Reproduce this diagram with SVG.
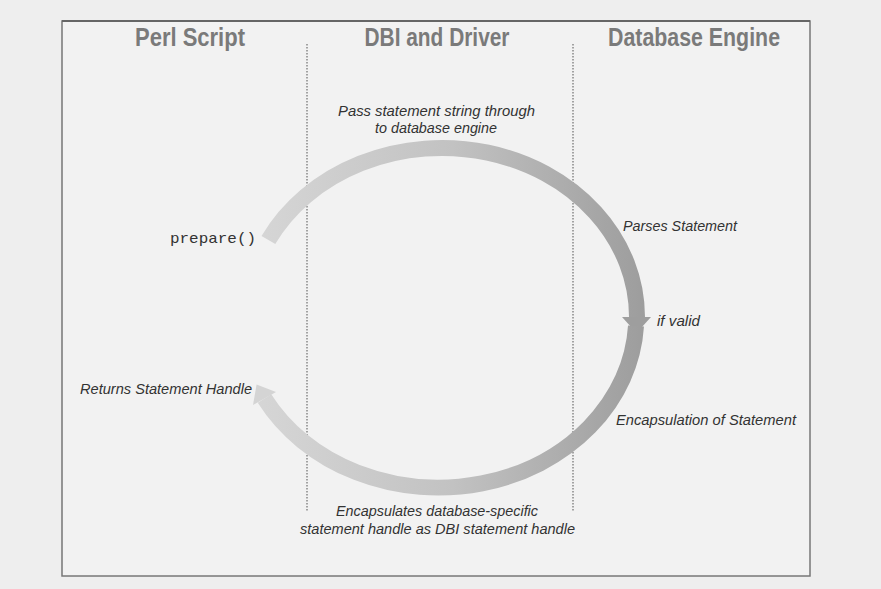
<svg xmlns="http://www.w3.org/2000/svg" width="881" height="589" viewBox="0 0 881 589">
<defs>
<linearGradient id="g" gradientUnits="userSpaceOnUse" x1="255" y1="0" x2="650" y2="0">
<stop offset="0" stop-color="#d6d6d6"/>
<stop offset="0.5" stop-color="#c2c2c2"/>
<stop offset="1" stop-color="#9c9c9c"/>
</linearGradient>
<style>
.hdr{font-family:"Liberation Sans",Arial,sans-serif;font-weight:bold;font-size:25px;fill:#7a7a7a;text-anchor:middle}
.lbl{font-family:"Liberation Sans",Arial,sans-serif;font-style:italic;font-size:14px;fill:#333}
.mono{font-family:"Liberation Mono","Courier New",monospace;font-size:15px;fill:#333}
.div{stroke:#888;stroke-width:1.5;stroke-dasharray:1.5 1.5;fill:none}
.band{fill:none;stroke:url(#g);stroke-width:16}
</style>
</defs>
<rect x="0" y="0" width="881" height="589" fill="#eeeeee"/>
<rect x="62" y="21" width="748" height="555" fill="#f2f2f2" stroke="#777" stroke-width="1.5"/>
<line x1="62" y1="21" x2="810" y2="21" stroke="#666" stroke-width="2"/>

<g id="headers">
<text class="hdr" x="190" y="46" textLength="110" lengthAdjust="spacingAndGlyphs">Perl Script</text>
<text class="hdr" x="437" y="46" textLength="145" lengthAdjust="spacingAndGlyphs">DBI and Driver</text>
<text class="hdr" x="694" y="46" textLength="172" lengthAdjust="spacingAndGlyphs">Database Engine</text>
</g>

<g id="dividers">
<line class="div" x1="307" y1="44" x2="307" y2="512"/>
<line class="div" x1="573" y1="44" x2="573" y2="512"/>
</g>

<g id="connectors">
<path class="band" d="M 268.4 240 A 195 169 0 0 1 637 317"/>
<polygon points="622,317 651,317 636.5,333" fill="#9e9e9e"/>
<path class="band" d="M 636 326 A 198 171 0 0 1 264.5 398.5"/>
<polygon points="253,405 276,392 256.6,384.6" fill="#d4d4d4"/>
</g>

<g id="node-prepare">
<text class="mono" x="170" y="243" textLength="86" lengthAdjust="spacingAndGlyphs">prepare()</text>
</g>
<g id="node-pass">
<text class="lbl" x="338" y="116" textLength="197" lengthAdjust="spacingAndGlyphs">Pass statement string through</text>
<text class="lbl" x="375" y="133" textLength="122" lengthAdjust="spacingAndGlyphs">to database engine</text>
</g>
<g id="node-parses">
<text class="lbl" x="623" y="231" textLength="114" lengthAdjust="spacingAndGlyphs">Parses Statement</text>
</g>
<g id="node-valid">
<text class="lbl" x="657" y="326" textLength="43" lengthAdjust="spacingAndGlyphs">if valid</text>
</g>
<g id="node-encap">
<text class="lbl" x="616" y="425" textLength="180" lengthAdjust="spacingAndGlyphs">Encapsulation of Statement</text>
</g>
<g id="node-returns">
<text class="lbl" x="80" y="394" textLength="172" lengthAdjust="spacingAndGlyphs">Returns Statement Handle</text>
</g>
<g id="node-encaps">
<text class="lbl" x="336" y="516" textLength="202" lengthAdjust="spacingAndGlyphs">Encapsulates database-specific</text>
<text class="lbl" x="300" y="534" textLength="275" lengthAdjust="spacingAndGlyphs">statement handle as DBI statement handle</text>
</g>
</svg>
